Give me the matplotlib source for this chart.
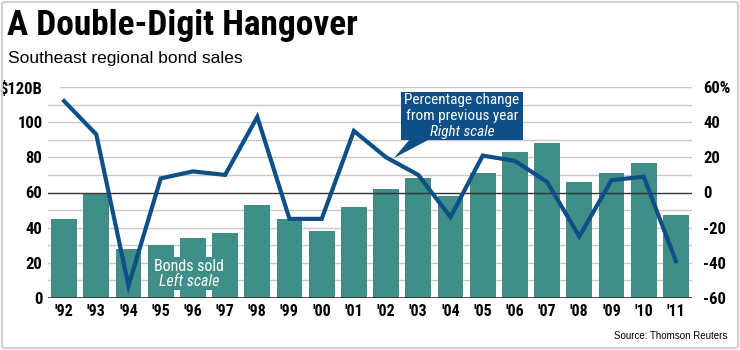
import matplotlib
matplotlib.use("Agg")
import matplotlib.pyplot as plt
from matplotlib.patches import FancyBboxPatch, Polygon, Rectangle

years = ["'92", "'93", "'94", "'95", "'96", "'97", "'98", "'99", "'00", "'01",
         "'02", "'03", "'04", "'05", "'06", "'07", "'08", "'09", "'10", "'11"]
bonds_sold = [45, 60, 28, 30, 34, 37, 53, 45, 38, 52,
              62, 68, 58, 71, 83, 88, 66, 71, 77, 47]
pct_change = [52, 33, -53, 8, 12, 10, 43, -15, -15, 35,
              20, 10, -14, 21, 18, 6, -25, 7, 9, -39]
left_ticks = [0, 20, 40, 60, 80, 100, 120]
left_labels = ["0", "20", "40", "60", "80", "100", "$120B"]
right_ticks = [-60, -40, -20, 0, 20, 40, 60]
right_labels = ["-60", "-40", "-20", "0", "20", "40", "60%"]

COND = ["Roboto Condensed", "Archivo Narrow", "DejaVu Sans"]
REG = ["Liberation Sans", "DejaVu Sans"]

TEAL = "#3f8f88"
BLUE = "#0d4f86"

fig = plt.figure(figsize=(7.4, 3.5), dpi=100)
ax = fig.add_axes([48/740, 1-298/350, (692-48)/740, (298-87)/350])
x = list(range(len(years)))
ax.bar(x, bonds_sold, width=0.8, color=TEAL, zorder=2)
ax.set_xlim(-0.5, len(years) - 0.5)
ax.set_ylim(0, 120)
for v in range(10, 120, 10):
    if v == 60:
        continue
    ax.axhline(v, color="#c8c8c8", lw=1, zorder=1)
ax.axhline(120, xmin=12/644, color="#c8c8c8", lw=1, zorder=1)
ax.axhline(60, color="#333333", lw=1, zorder=3)
ax.axhline(0, color="#333333", lw=1.2, zorder=3)
for s in ax.spines.values():
    s.set_visible(False)
ax.set_yticks(left_ticks)
ax.set_yticklabels(left_labels, fontfamily=COND, fontweight="bold", fontsize=12)
ax.set_xticks(x)
ax.set_xticklabels(years, fontfamily=COND, fontweight="bold", fontsize=11.5)
ax.tick_params(length=0, pad=4)
ax.tick_params(axis="y", pad=4)

ax2 = ax.twinx()
ax2.set_ylim(-60, 60)
ax2.plot(x, pct_change, color=BLUE, lw=3, zorder=4, solid_joinstyle="miter")
for s in ax2.spines.values():
    s.set_visible(False)
ax2.set_yticks(right_ticks)
ax2.set_yticklabels(right_labels, fontfamily=COND, fontweight="bold", fontsize=12)
ax2.tick_params(length=0, pad=8)

# Bonds sold label with teal background
ax.add_patch(Rectangle((2.8, 4.6), 4.97 - 2.8, 23.3 - 4.6, fc=TEAL, ec="none", zorder=2.5))
ax.text(3.88, 17.8, "Bonds sold", ha="center", va="center", color="white",
        fontfamily=COND, fontsize=11.5, zorder=5)
ax.text(3.88, 9.3, "Left scale", ha="center", va="center", color="white",
        fontfamily=COND, fontsize=11.5, style="italic", zorder=5)

# Percentage change callout (figure pixel coords)
def fx(px):
    return px / 740
def fy(py):
    return 1 - py / 350
box = Rectangle((fx(401), fy(140)), fx(523) - fx(401), fy(92) - fy(140),
                transform=fig.transFigure, fc=BLUE, ec="none", zorder=6)
fig.patches.append(box)
tri = Polygon([[fx(410), fy(139)], [fx(430), fy(139)], [fx(394), fy(158)]],
              closed=True, transform=fig.transFigure, fc=BLUE, ec="none", zorder=6)
fig.patches.append(tri)
for yy, t, st in [(100, "Percentage change", "normal"),
                  (116, "from previous year", "normal"),
                  (132, "Right scale", "italic")]:
    fig.text(fx(462), fy(yy), t, ha="center", va="center", color="white",
             fontfamily=COND, fontsize=11, style=st, zorder=8)

# Titles
fig.text(7/740, 1-25/350, "A Double-Digit Hangover", ha="left", va="center",
         fontfamily=COND, fontweight="bold", fontsize=25.5)
fig.text(8/740, 1-59/350, "Southeast regional bond sales", ha="left", va="center",
         fontfamily=REG, fontsize=12.5)
fig.text(727/740, 1-336/350, "Source: Thomson Reuters", ha="right", va="center",
         fontfamily=REG, fontsize=7)

border = FancyBboxPatch((2/740, 2/350), 1 - 4/740, 1 - 4/350,
                        boxstyle="round,pad=0,rounding_size=0.005",
                        transform=fig.transFigure, fc="none", ec="#d0d0d0", lw=1.5)
fig.patches.append(border)

fig.savefig("out.png", dpi=100)
